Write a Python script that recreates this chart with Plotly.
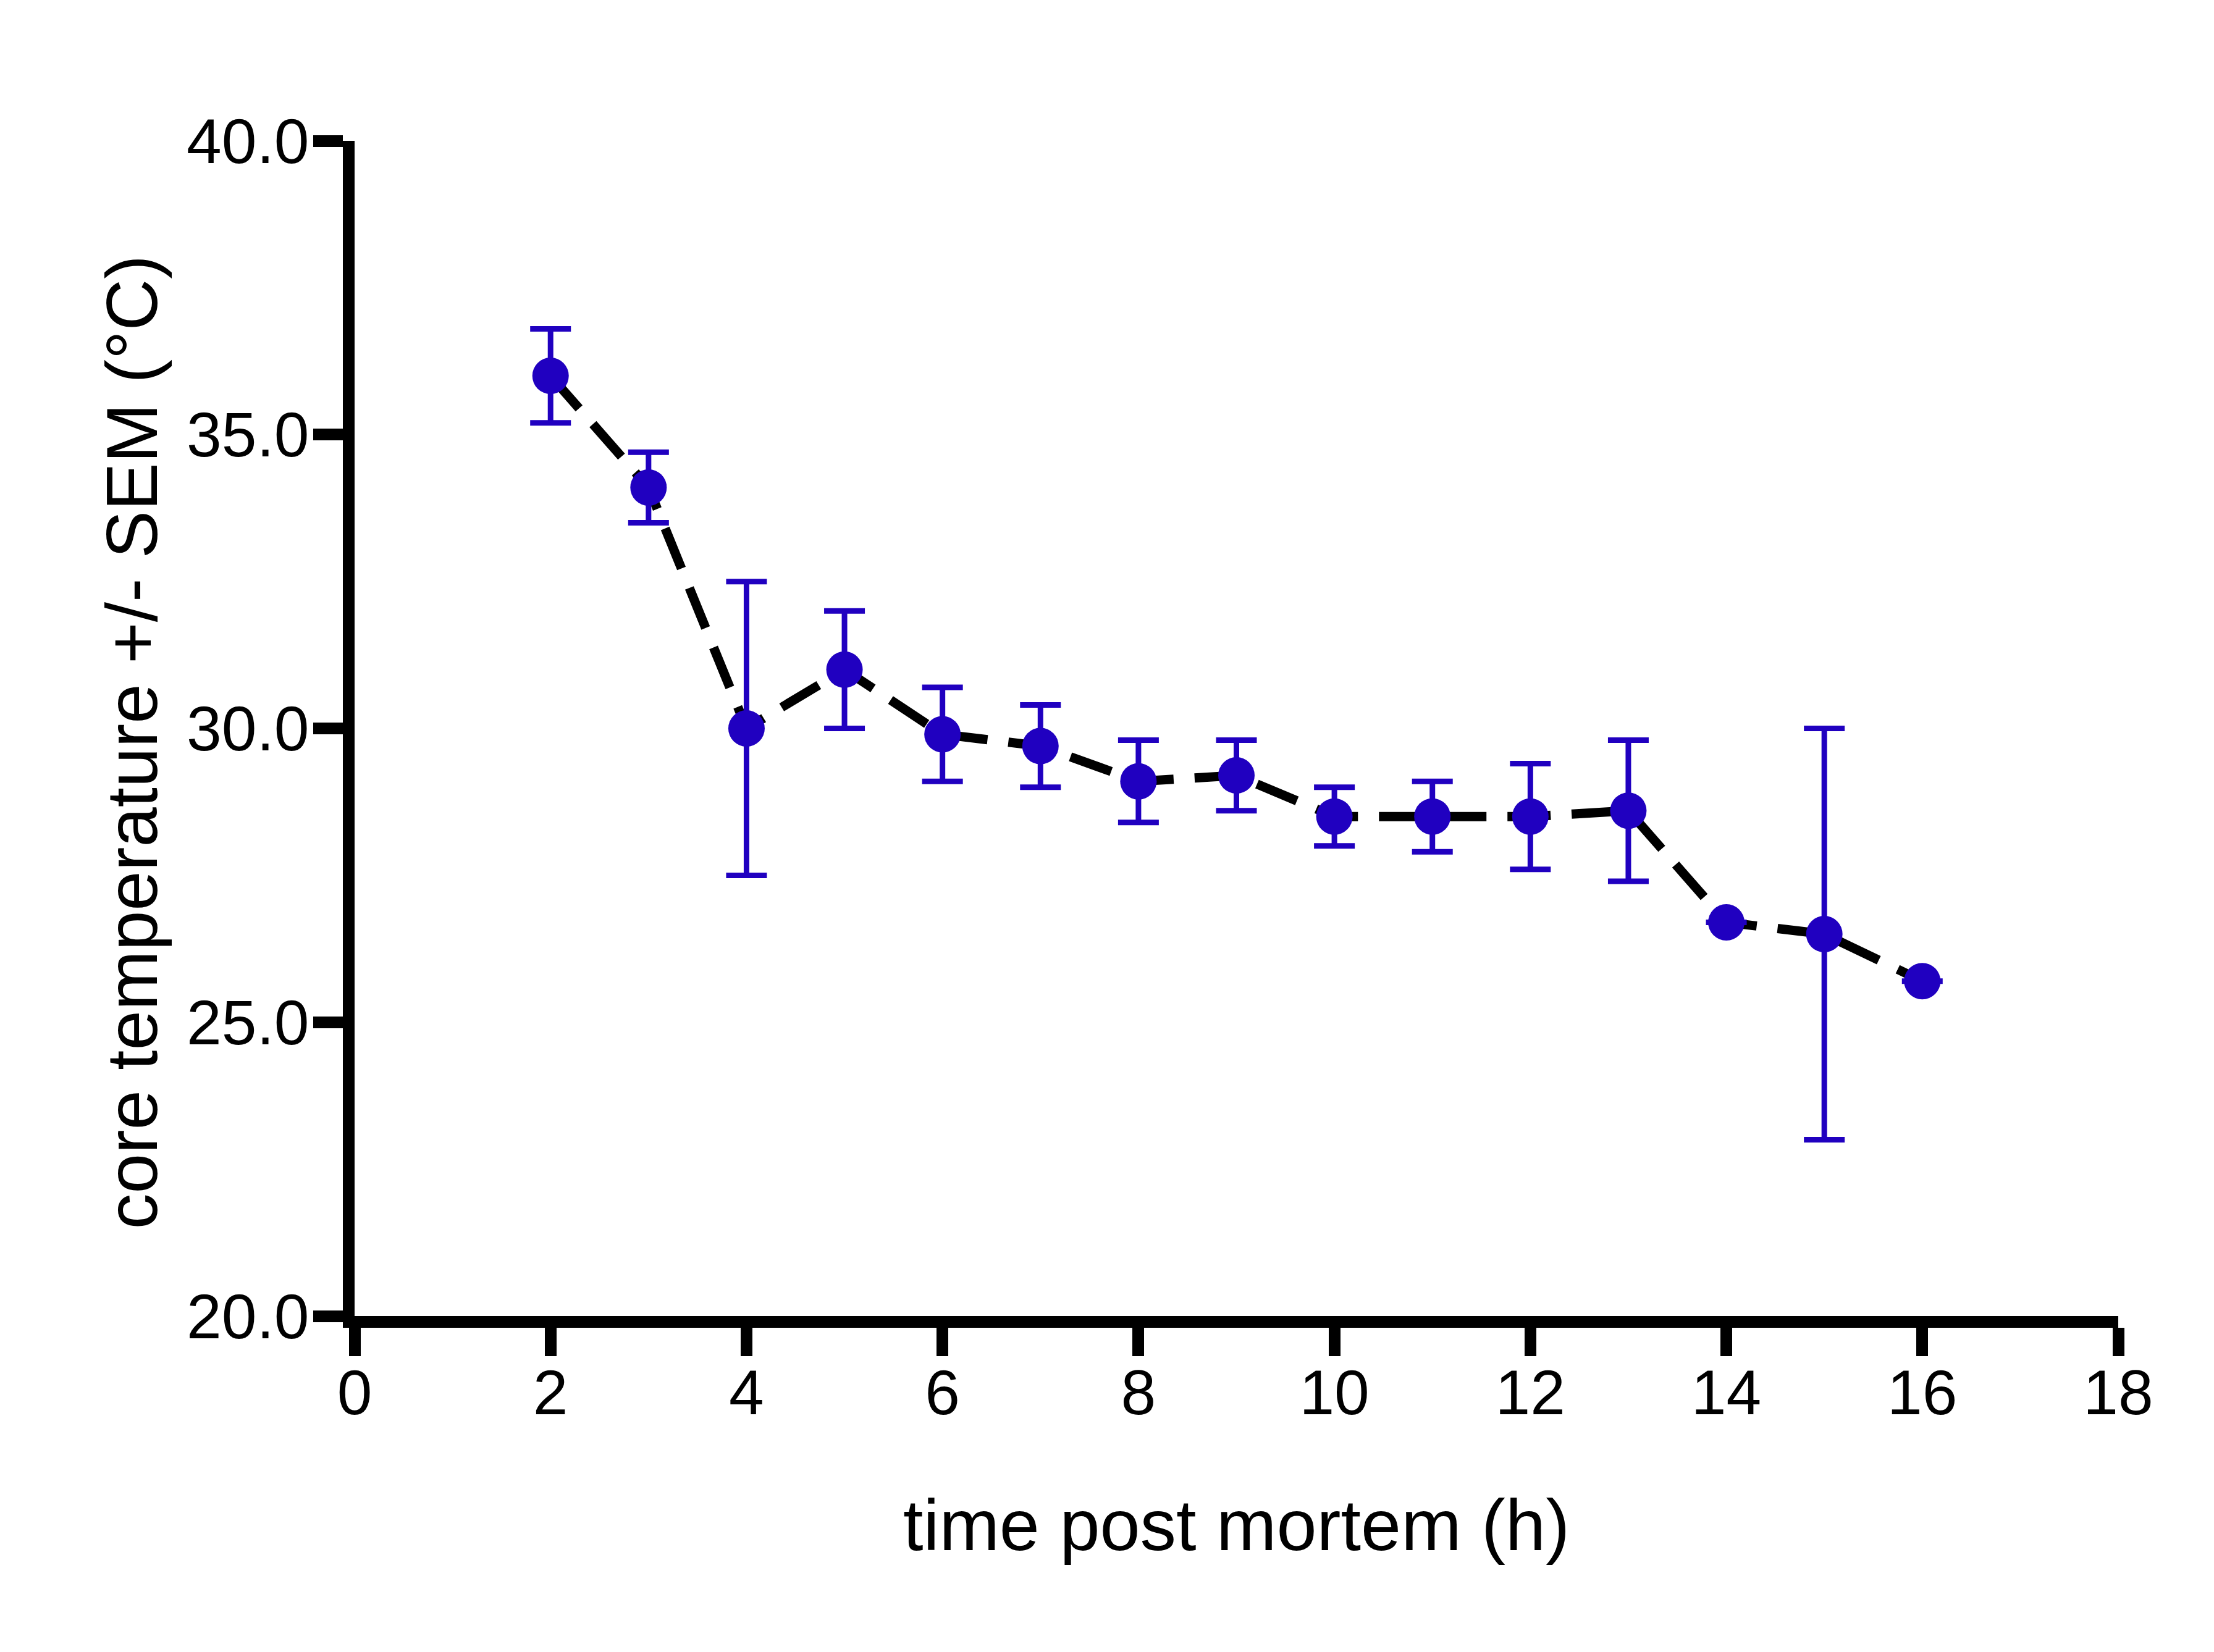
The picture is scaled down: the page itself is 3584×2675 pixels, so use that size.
import plotly.graph_objects as go

# Data
time_h = [2, 3, 4, 5, 6, 7, 8, 9, 10, 11, 12, 13, 14, 15, 16]
core_temp = [36.0, 34.1, 30.0, 31.0, 29.9, 29.7, 29.1, 29.2, 28.5, 28.5, 28.5, 28.6, 26.7, 26.5, 25.7]
sem = [0.8, 0.6, 2.5, 1.0, 0.8, 0.7, 0.7, 0.6, 0.5, 0.6, 0.9, 1.2, None, 3.5, None]

x_ticks = [0, 2, 4, 6, 8, 10, 12, 14, 16, 18]
y_ticks = [20.0, 25.0, 30.0, 35.0, 40.0]

BLUE = "#2000C0"
FONT = "Liberation Sans, Arial, Helvetica, sans-serif"

fig = go.Figure()

# dashed connecting line
fig.add_trace(go.Scatter(
    x=time_h, y=core_temp, mode="lines",
    line=dict(color="black", width=15, dash="70px,34px"),
    hoverinfo="skip", showlegend=False,
))

# points with SEM error bars
fig.add_trace(go.Scatter(
    x=time_h, y=core_temp, mode="markers",
    marker=dict(color=BLUE, size=59, line=dict(width=0)),
    error_y=dict(type="data", array=sem, visible=True, color=BLUE,
                 thickness=9, width=33),
    showlegend=False,
))

fig.update_layout(
    width=3584, height=2675,
    paper_bgcolor="white", plot_bgcolor="white",
    margin=dict(l=566, r=163, t=220, b=552, pad=0),
    font=dict(family=FONT, color="black", size=100),
    showlegend=False,
    annotations=[dict(
        text="core temperature +/- SEM (°C)",
        textangle=-90, showarrow=False,
        xref="paper", yref="paper", x=-0.126, y=0.488,
        xanchor="center", yanchor="middle",
        font=dict(size=116, family=FONT, color="black"),
    )],
)

fig.update_xaxes(
    range=[0, 18], tickvals=x_ticks, ticktext=[str(v) for v in x_ticks],
    showgrid=False, zeroline=False,
    showline=True, linewidth=19, linecolor="black",
    ticks="outside", ticklen=46, tickwidth=19, tickcolor="black",
    tickfont=dict(size=102, family=FONT, color="black"),
    ticklabelstandoff=-28,
    title=dict(text="time post mortem (h)", font=dict(size=117, family=FONT, color="black"), standoff=125),
)

fig.update_yaxes(
    range=[20, 40], tickvals=y_ticks, ticktext=[f"{v:.1f}" for v in y_ticks],
    showgrid=False, zeroline=False,
    showline=True, linewidth=19, linecolor="black",
    ticks="outside", ticklen=48, tickwidth=19, tickcolor="black",
    tickfont=dict(size=102, family=FONT, color="black"),
    ticklabelstandoff=-14,
)

fig.write_html("out.html")
